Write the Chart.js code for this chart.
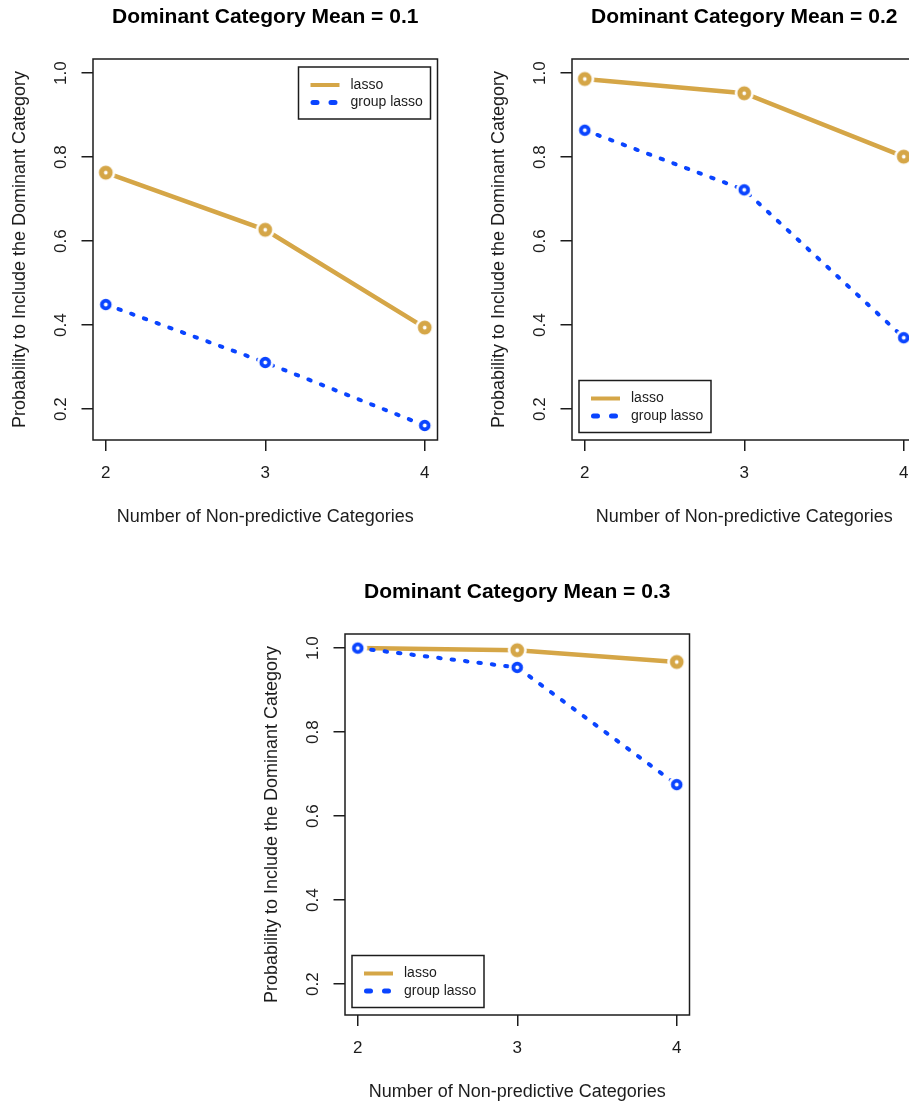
<!DOCTYPE html>
<html>
<head>
<meta charset="utf-8">
<script src="https://cdn.jsdelivr.net/npm/chart.js@4/dist/chart.umd.min.js"></script>
<style>
  html, body { margin: 0; padding: 0; background: #fff; overflow: hidden; }
  #wrap { position: relative; width: 909px; height: 1105px; overflow: hidden; }
  canvas { position: absolute; }
</style>
</head>
<body>
<div id="wrap">
  <canvas id="p1" width="449" height="545" style="left:0px;top:0px"></canvas>
  <canvas id="p2" width="449" height="545" style="left:479px;top:0px"></canvas>
  <canvas id="p3" width="449" height="545" style="left:252px;top:575px"></canvas>
</div>
<script>
// data
const xCategories = [2, 3, 4];
const xTickLabels = ["2", "3", "4"];
const yTicks = [0.2, 0.4, 0.6, 0.8, 1.0];
const yTickLabels = ["0.2", "0.4", "0.6", "0.8", "1.0"];
const seriesNames = ["lasso", "group lasso"];
const panelTitles = ["Dominant Category Mean = 0.1", "Dominant Category Mean = 0.2", "Dominant Category Mean = 0.3"];

const lasso01 = [0.763, 0.627, 0.394];
const group01 = [0.449, 0.311, 0.161];
const lasso02 = [0.986, 0.952, 0.801];
const group02 = [0.864, 0.722, 0.370];
const lasso03 = [1.0, 0.995, 0.967];
const group03 = [1.0, 0.954, 0.675];

const xLabel = "Number of Non-predictive Categories";
const yLabel = "Probability to Include the Dominant Category";

const GOLD = "#D5A647";
const BLUE = "#0A44FF";
const INK = "#1c1c1c";
const FONT = '"Liberation Sans", Arial, Helvetica, sans-serif';

// open circle with a white halo, like R type="b"
function ringPoint(color, r, lw, halo) {
  const c = document.createElement("canvas");
  const s = Math.ceil(halo * 2 + 2);
  c.width = s; c.height = s;
  const g = c.getContext("2d");
  g.fillStyle = "#fff";
  g.beginPath(); g.arc(s / 2, s / 2, halo, 0, Math.PI * 2); g.fill();
  g.strokeStyle = color; g.lineWidth = lw;
  g.beginPath(); g.arc(s / 2, s / 2, r, 0, Math.PI * 2); g.stroke();
  return c;
}
const goldPt = ringPoint(GOLD, 4.4, 5, 9.5);
const bluePt = ringPoint(BLUE, 3.9, 3.8, 8.5);

const framePlugin = {
  id: "frame",
  afterDraw(chart, args, opts) {
    const { ctx, chartArea: a } = chart;
    ctx.save();
    // box round the plot
    ctx.strokeStyle = INK;
    ctx.lineWidth = 1.5;
    ctx.strokeRect(a.left, a.top, a.right - a.left, a.bottom - a.top);

    // rotated y tick labels
    const y = chart.scales.y;
    ctx.fillStyle = INK;
    ctx.font = "17px " + FONT;
    ctx.textAlign = "center";
    ctx.textBaseline = "middle";
    yTicks.forEach((v, i) => {
      ctx.save();
      ctx.translate(a.left - 31.5, y.getPixelForValue(v));
      ctx.rotate(-Math.PI / 2);
      ctx.fillText(yTickLabels[i], 0, 0);
      ctx.restore();
    });

    // legend box
    const bw = 132, bh = 52;
    let bx, by;
    if (opts.pos === "topright") {
      bx = a.right - 7 - bw; by = a.top + 8;
    } else {
      bx = a.left + 7; by = a.bottom - 7.5 - bh;
    }
    ctx.fillStyle = "#fff";
    ctx.fillRect(bx, by, bw, bh);
    ctx.strokeStyle = INK;
    ctx.lineWidth = 1.5;
    ctx.strokeRect(bx, by, bw, bh);

    const rows = [by + 18, by + 35.5];
    chart.data.datasets.forEach((ds, i) => {
      ctx.save();
      ctx.strokeStyle = ds.borderColor;
      ctx.lineWidth = ds.legendWidth;
      ctx.lineCap = ds.borderDash ? "round" : "butt";
      ctx.setLineDash(ds.borderDash ? [4, 14] : []);
      ctx.beginPath();
      ctx.moveTo(bx + (ds.borderDash ? 14.5 : 12), rows[i]);
      ctx.lineTo(bx + 41, rows[i]);
      ctx.stroke();
      ctx.restore();
      ctx.fillStyle = INK;
      ctx.font = "14px " + FONT;
      ctx.textAlign = "left";
      ctx.textBaseline = "middle";
      ctx.fillText(ds.label, bx + 52, rows[i]);
    });
    ctx.restore();
  }
};

function makePanel(id, title, lassoVals, groupVals, legendPos) {
  const ctx = document.getElementById(id);
  return new Chart(ctx, {
    type: "line",
    data: {
      datasets: [
        {
          label: seriesNames[0],
          data: xCategories.map((x, i) => ({ x: x, y: lassoVals[i] })),
          borderColor: GOLD,
          borderWidth: 4.5,
          legendWidth: 4,
          pointStyle: goldPt,
          pointRadius: 7,
          tension: 0,
          fill: false,
          order: 1,
        },
        {
          label: seriesNames[1],
          data: xCategories.map((x, i) => ({ x: x, y: groupVals[i] })),
          borderColor: BLUE,
          borderWidth: 4,
          legendWidth: 5,
          borderDash: [2.5, 11],
          borderCapStyle: "round",
          pointStyle: bluePt,
          pointRadius: 6,
          tension: 0,
          fill: false,
          order: 0,
        },
      ],
    },
    options: {
      responsive: false,
      animation: false,
      layout: { padding: { left: 0, right: 8.5, top: 0, bottom: 0 } },
      plugins: {
        legend: { display: false },
        tooltip: { enabled: false },
        title: {
          display: true,
          text: title,
          fullSize: false,
          color: "#000",
          font: { family: FONT, size: 21, weight: "bold", lineHeight: 1.2 },
          padding: { top: 4.4, bottom: 29.4 },
        },
        frame: { pos: legendPos },
      },
      scales: {
        x: {
          type: "linear",
          position: "bottom",
          min: 1.92,
          max: 4.08,
          afterFit: (s) => { s.height = 105; },
          afterBuildTicks: (s) => { s.ticks = xCategories.map((v) => ({ value: v })); },
          grid: { drawOnChartArea: false, drawTicks: true, tickLength: 11, color: INK, lineWidth: 1.5 },
          border: { display: false },
          ticks: {
            autoSkip: false,
            maxRotation: 0,
            padding: 3,
            color: INK,
            font: { family: FONT, size: 17, lineHeight: "38.4px" },
            callback: (v) => xTickLabels[xCategories.indexOf(v)],
          },
          title: {
            display: true,
            text: xLabel,
            color: INK,
            font: { family: FONT, size: 18, lineHeight: 1.2 },
            padding: { top: 0, bottom: 17.2 },
          },
        },
        y: {
          position: "left",
          min: 0.1264,
          max: 1.0336,
          afterFit: (s) => { s.width = 93; },
          afterBuildTicks: (s) => { s.ticks = yTicks.map((v) => ({ value: v })); },
          grid: { drawOnChartArea: false, drawTicks: true, tickLength: 11.5, color: INK, lineWidth: 1.5 },
          border: { display: false },
          ticks: { display: false },
          title: {
            display: true,
            text: yLabel,
            color: INK,
            font: { family: FONT, size: 18, lineHeight: 1.2 },
            padding: { top: 9.2, bottom: 0 },
          },
        },
      },
    },
    plugins: [framePlugin],
  });
}

makePanel("p1", panelTitles[0], lasso01, group01, "topright");
makePanel("p2", panelTitles[1], lasso02, group02, "bottomleft");
makePanel("p3", panelTitles[2], lasso03, group03, "bottomleft");
</script>
</body>
</html>
